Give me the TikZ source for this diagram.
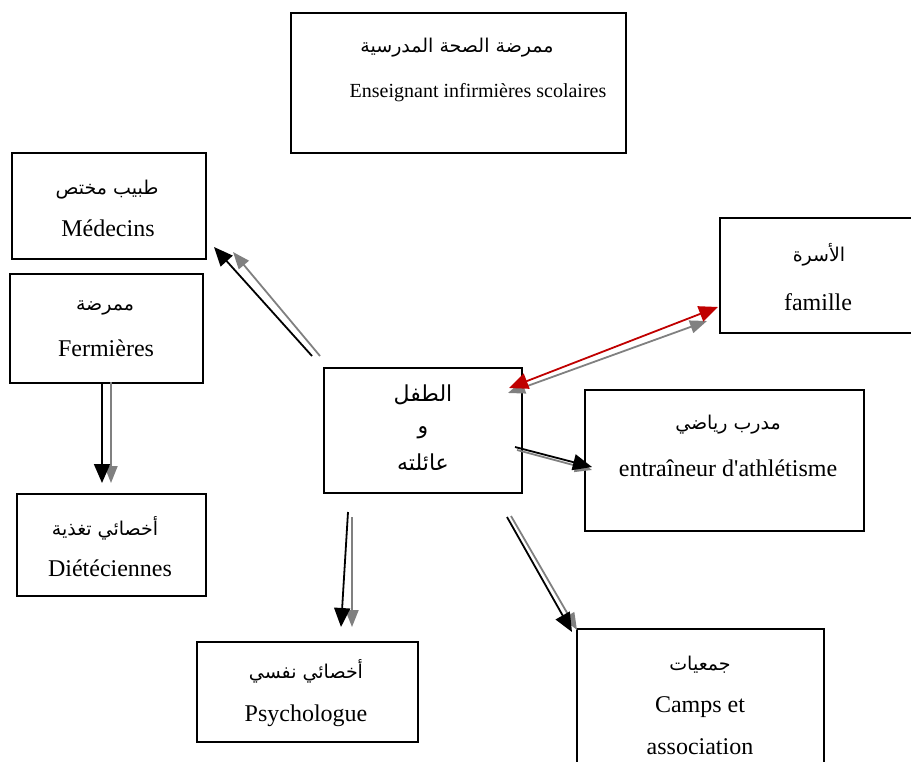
\documentclass[tikz,border=0pt]{standalone}
\usepackage{fontspec}
\setmainfont{Liberation Serif}
\newfontfamily\arabicfont[Script=Arabic]{DejaVu Sans}
\TeXXeTstate=1
\usetikzlibrary{arrows.meta}
\newcommand{\arb}[1]{{\arabicfont\beginR #1\endR}}
\definecolor{shadowgray}{RGB}{128,128,128}
\definecolor{linkred}{RGB}{192,0,0}
\tikzset{
  box/.style={draw=black, line width=2pt, anchor=north west, inner sep=0pt},
  lat/.style={font=\fontsize{24}{28}\selectfont, inner sep=0pt},
  latsmall/.style={font=\fontsize{20}{24}\selectfont, inner sep=0pt},
  arab/.style={font=\fontsize{19}{22}\selectfont, inner sep=0pt},
  arabbig/.style={font=\fontsize{22}{26}\selectfont, inner sep=0pt},
  blackarrow/.style={draw=black, line width=1.8pt, -{Triangle[length=19pt,width=16pt]}},
  grayarrow/.style={draw=shadowgray, line width=1.8pt, -{Triangle[length=17pt,width=13pt]}},
  redarrow/.style={draw=linkred, line width=1.8pt, {Triangle[length=19pt,width=16pt]}-{Triangle[length=19pt,width=16pt]}},
  grayboth/.style={draw=shadowgray, line width=1.8pt, {Triangle[length=17pt,width=13pt]}-{Triangle[length=17pt,width=13pt]}}
}
\begin{document}
\begin{tikzpicture}[x=1pt,y=-1pt]
\useasboundingbox (0,0) rectangle (911,762);
% boxes
\node[box, minimum width=335pt, minimum height=140pt] (top) at (290,12) {};
\node[box, minimum width=194pt, minimum height=106pt] (med) at (11,152) {};
\node[box, minimum width=193pt, minimum height=109pt] (ferm) at (9,273) {};
\node[box, minimum width=189pt, minimum height=102pt] (diet) at (16,493) {};
\node[box, minimum width=221pt, minimum height=100pt] (psy) at (196,641) {};
\node[box, minimum width=198pt, minimum height=125pt] (child) at (323,367) {};
\node[box, minimum width=200pt, minimum height=115pt] (fam) at (719,217) {};
\node[box, minimum width=279pt, minimum height=141pt] (coach) at (584,389) {};
\node[box, minimum width=247pt, minimum height=180pt] (camps) at (576,628) {};
% texts
\node[arab] (topA) at (457,48) {\arb{ممرضة الصحة المدرسية}};
\node[latsmall] (topL) at (478,93) {Enseignant infirmières scolaires};
\node[arab] (medA) at (107,190) {\arb{طبيب مختص}};
\node[lat] (medL) at (108,228) {Médecins};
\node[arab] (fermA) at (105,308) {\arb{ممرضة}};
\node[lat] (fermL) at (106,348) {Fermières};
\node[arab] (dietA) at (105,528) {\arb{أخصائي تغذية}};
\node[lat] (dietL) at (110,568) {Diétéciennes};
\node[arab] (psyA) at (306,671) {\arb{أخصائي نفسي}};
\node[lat] (psyL) at (306,716) {Psychologue};
\node[arabbig] (chA) at (423,395) {\arb{الطفل}};
\node[arabbig] (chB) at (423,433) {\arb{و}};
\node[arabbig] (chC) at (423,462) {\arb{عائلته}};
\node[arab] (famA) at (819,255) {\arb{الأسرة}};
\node[lat] (famL) at (818,302) {famille};
\node[arab] (coA) at (728,425) {\arb{مدرب رياضي}};
\node[lat] (coL) at (728,468) {entraîneur d\textquotesingle athlétisme};
\node[arab] (caA) at (700,665) {\arb{جمعيات}};
\node[lat] (caL) at (700,707) {Camps et};
\node[lat] (caM) at (700,747) {association};
% arrow end points
\coordinate (m1) at (312,356); \coordinate (m2) at (214,247);
\coordinate (mg1) at (320,356); \coordinate (mg2) at (233,252);
\coordinate (f1) at (509,388); \coordinate (f2) at (718,307);
\coordinate (fg1) at (508,393); \coordinate (fg2) at (707,321);
\coordinate (d1) at (102,382); \coordinate (d2) at (102,483);
\coordinate (dg1) at (111,382); \coordinate (dg2) at (111,483);
\coordinate (p1) at (348,512); \coordinate (p2) at (341,627);
\coordinate (pg1) at (352,517); \coordinate (pg2) at (352,627);
\coordinate (e1) at (515,447); \coordinate (e2) at (592,467);
\coordinate (eg1) at (517,450); \coordinate (eg2) at (592,470);
\coordinate (c1) at (507,517); \coordinate (c2) at (572,632);
\coordinate (cg1) at (511,516); \coordinate (cg2) at (577,630);
% arrows: gray shadow then black
\draw[grayarrow] (mg1) -- (mg2);
\draw[blackarrow] (m1) -- (m2);
\draw[grayboth] (fg1) -- (fg2);
\draw[redarrow] (f1) -- (f2);
\draw[grayarrow] (dg1) -- (dg2);
\draw[blackarrow] (d1) -- (d2);
\draw[grayarrow] (pg1) -- (pg2);
\draw[blackarrow] (p1) -- (p2);
\draw[grayarrow] (eg1) -- (eg2);
\draw[blackarrow] (e1) -- (e2);
\draw[grayarrow] (cg1) -- (cg2);
\draw[blackarrow] (c1) -- (c2);
\end{tikzpicture}
\end{document}
